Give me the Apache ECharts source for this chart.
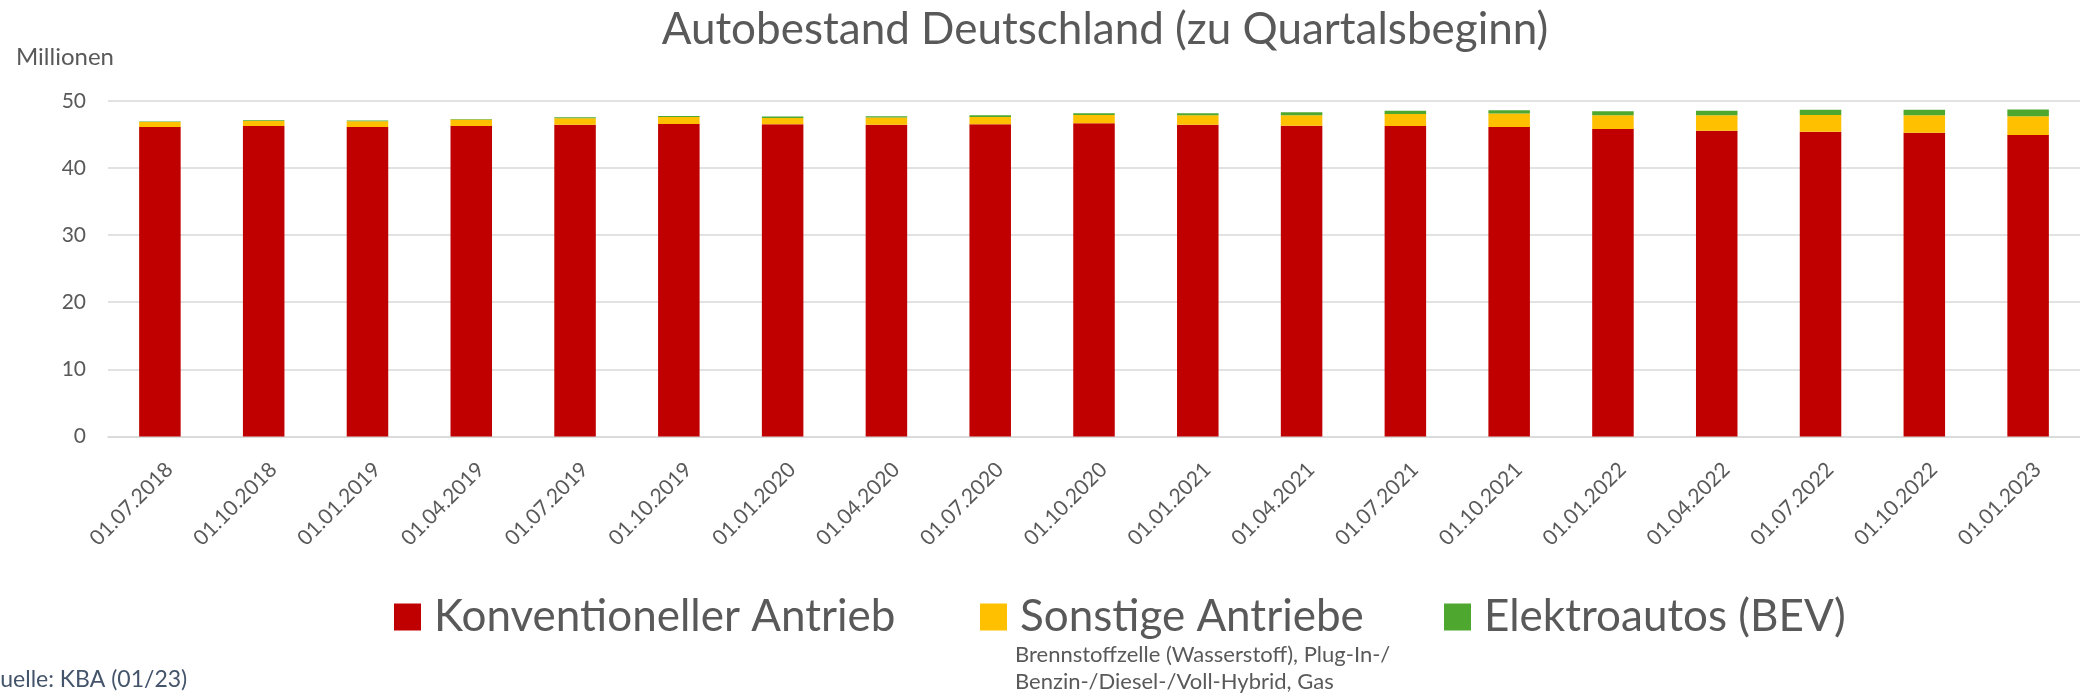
<!DOCTYPE html>
<html>
<head>
<meta charset="utf-8">
<script src="https://cdn.jsdelivr.net/npm/echarts/dist/echarts.min.js"></script>
<style>
  html, body { margin: 0; padding: 0; background: #fff; }
  #chart { width: 2080px; height: 695px; }
</style>
</head>
<body>
<div id="chart"></div>
<script>
// Quartale
const dates = ['01.07.2018', '01.10.2018', '01.01.2019', '01.04.2019', '01.07.2019', '01.10.2019',
  '01.01.2020', '01.04.2020', '01.07.2020', '01.10.2020', '01.01.2021', '01.04.2021', '01.07.2021',
  '01.10.2021', '01.01.2022', '01.04.2022', '01.07.2022', '01.10.2022', '01.01.2023'];

// Bestand in Millionen
const konventionell = [46.1, 46.25, 46.1, 46.25, 46.45, 46.55, 46.5, 46.45, 46.5, 46.65, 46.45, 46.3,
  46.25, 46.1, 45.8, 45.55, 45.4, 45.25, 44.9];
const sonstige = [0.75, 0.75, 0.85, 0.95, 0.95, 1.05, 0.95, 1.05, 1.1, 1.25, 1.4, 1.55,
  1.8, 2.0, 2.05, 2.3, 2.5, 2.6, 2.8];
const elektro = [0.05, 0.1, 0.1, 0.1, 0.15, 0.15, 0.2, 0.2, 0.25, 0.25, 0.3, 0.45,
  0.45, 0.5, 0.6, 0.65, 0.75, 0.8, 1.0];

const seriesNames = ['Konventioneller Antrieb', 'Sonstige Antriebe', 'Elektroautos (BEV)'];
const colors = ['#C00000', '#FFC000', '#4EA72E'];

const font = 'Lato, "Open Sans", sans-serif';
const grey = '#595959';

const chart = echarts.init(document.getElementById('chart'));

function legendItem(name, left) {
  return {
    data: [name],
    left: left,
    top: 590,
    icon: 'rect',
    itemWidth: 27,
    itemHeight: 27,
    selectedMode: false,
    textStyle: { fontFamily: font, fontSize: 44, color: grey, padding: [0, 0, 0, 8] }
  };
}

const option = {
  backgroundColor: '#fff',
  animation: false,
  grid: { left: 108, right: -16, top: 100.8, bottom: 258.5 },
  legend: [
    legendItem(seriesNames[0], 389),
    legendItem(seriesNames[1], 975),
    legendItem(seriesNames[2], 1439)
  ],
  xAxis: {
    type: 'category',
    data: dates,
    axisTick: { show: false },
    axisLine: { lineStyle: { color: '#D9D9D9', width: 1.5 } },
    axisLabel: {
      rotate: 45,
      margin: 20,
      interval: 0,
      verticalAlign: 'top',
      padding: [3, 0, 0, 0],
      fontFamily: font,
      fontSize: 21,
      color: grey
    }
  },
  yAxis: {
    type: 'value',
    min: 0,
    max: 50,
    interval: 10,
    axisLine: { show: false },
    axisTick: { show: false },
    splitLine: { lineStyle: { color: '#D9D9D9', width: 1.5 } },
    axisLabel: { margin: 22, fontFamily: font, fontSize: 21, color: grey }
  },
  series: seriesNames.map((name, i) => ({
    name: name,
    type: 'bar',
    stack: 'bestand',
    barWidth: '40%',
    itemStyle: { color: colors[i] },
    data: [konventionell, sonstige, elektro][i]
  })),
  graphic: [
    {
      type: 'text', x: 1105, y: 30,
      style: { text: 'Autobestand Deutschland (zu Quartalsbeginn)', fontFamily: font, fontSize: 44,
        fill: grey, align: 'center', verticalAlign: 'middle' }
    },
    {
      type: 'text', x: 16, y: 57,
      style: { text: 'Millionen', fontFamily: font, fontSize: 24, fill: grey, align: 'left', verticalAlign: 'middle' }
    },
    {
      type: 'text', x: 1015, y: 655,
      style: { text: 'Brennstoffzelle (Wasserstoff), Plug-In-/', fontFamily: font, fontSize: 22,
        fill: grey, align: 'left', verticalAlign: 'middle' }
    },
    {
      type: 'text', x: 1015, y: 682,
      style: { text: 'Benzin-/Diesel-/Voll-Hybrid, Gas', fontFamily: font, fontSize: 22,
        fill: grey, align: 'left', verticalAlign: 'middle' }
    },
    {
      type: 'text', x: -18, y: 680,
      style: { text: 'Quelle: KBA (01/23)', fontFamily: font, fontSize: 23,
        fill: '#44546A', align: 'left', verticalAlign: 'middle' }
    }
  ]
};

chart.setOption(option);
window.addEventListener('resize', function () { chart.resize(); });
</script>
</body>
</html>
